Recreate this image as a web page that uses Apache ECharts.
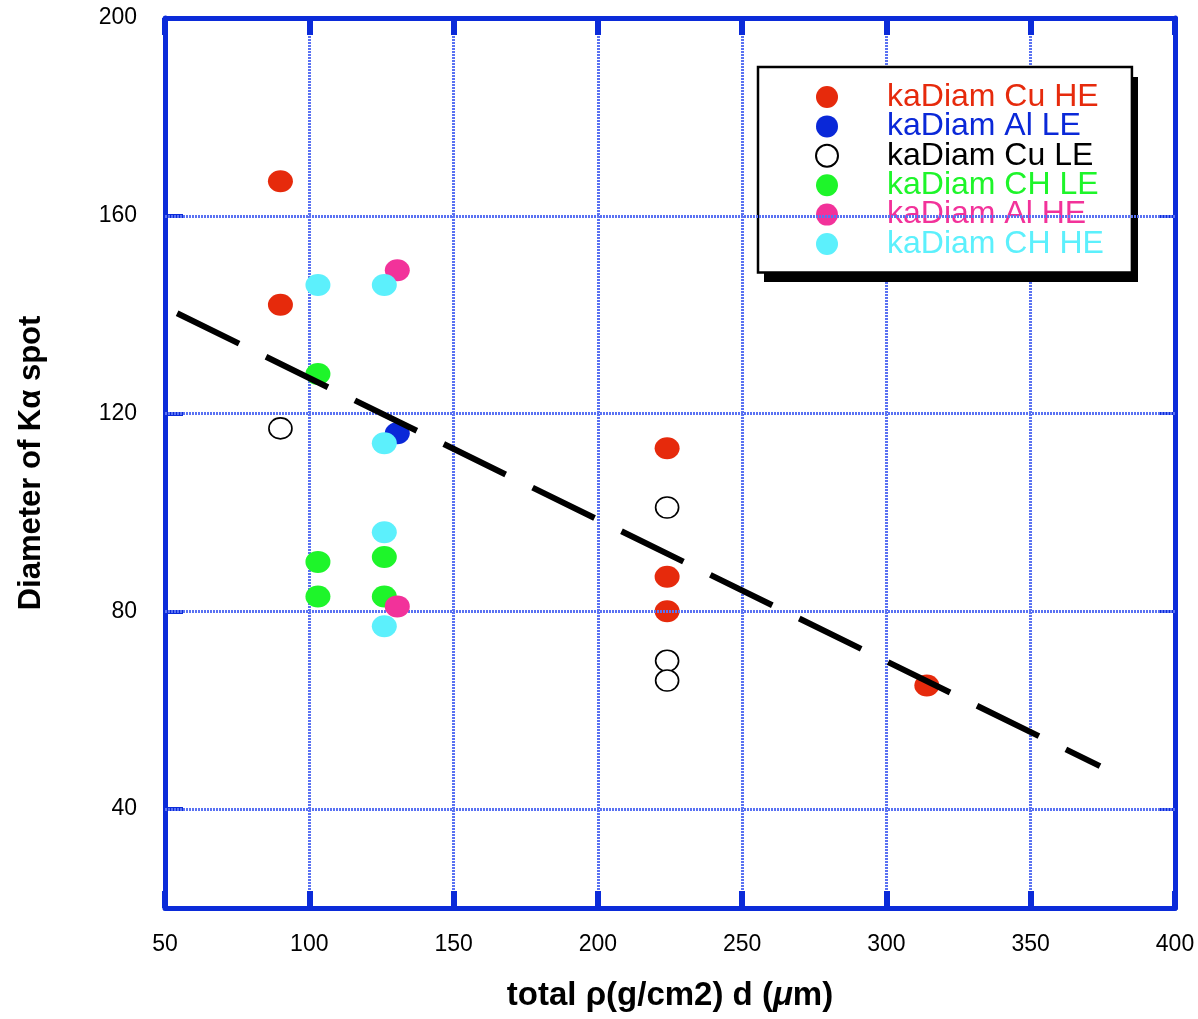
<!DOCTYPE html>
<html>
<head>
<meta charset="utf-8">
<title>Diameter of Kα spot</title>
<script src="https://cdn.jsdelivr.net/npm/echarts@6/dist/echarts.min.js"></script>
<style>
  html, body { margin: 0; padding: 0; background: #fff; }
  #chart { width: 1198px; height: 1019px; }
</style>
</head>
<body>
<div id="chart"></div>
<script>
// Measured Kα spot diameters against total areal density
const cuHE = [[90, 167], [90, 142], [224, 113], [224, 87], [224, 80], [314, 65]];
const alLE = [[130.5, 116]];
const cuLE = [[90, 117], [224, 101], [224, 70], [224, 66]];
const chLE = [[103, 128], [103, 90], [103, 83], [126, 91], [126, 83]];
const alHE = [[130.5, 149], [130.5, 81]];
const chHE = [[103, 146], [126, 146], [126, 114], [126, 96], [126, 77]];

// Linear fit drawn as a dashed trend line
const fitLine = [[54.2, 140.3], [374, 48.7]];

const seriesNames = ['kaDiam Cu HE', 'kaDiam Al LE', 'kaDiam Cu LE', 'kaDiam CH LE', 'kaDiam Al HE', 'kaDiam CH HE'];
const seriesColors = ['#e62a0c', '#0a28d8', '#000000', '#1ef52a', '#f2329a', '#5cf0fc'];

const xTicks = [50, 400, 50];          // min, max, interval
const yLabelValues = [40, 80, 120, 160, 200];
const yGridValues = [40, 80, 120, 160];

const FRAME = '#0b2bd9';
const GRID = '#5a72f2';
const FONT = '"Liberation Sans", Arial, Helvetica, sans-serif';

const chart = echarts.init(document.getElementById('chart'), null, { renderer: 'canvas' });

const scatterData = [cuHE, alLE, cuLE, chLE, alHE, chHE];
const scatterSeries = scatterData.map((d, i) => {
  const hollow = i === 2;
  return {
    name: seriesNames[i],
    type: 'scatter',
    data: d,
    symbol: 'circle',
    symbolSize: hollow ? [23, 21] : [25, 22],
    z: 3 + i,
    itemStyle: hollow
      ? { color: '#ffffff', borderColor: '#000000', borderWidth: 1.6, opacity: 1 }
      : { color: seriesColors[i], opacity: 1 },
    emphasis: { disabled: true },
    silent: true
  };
});

const legendText = { fontFamily: FONT, fontSize: 32 };

const option = {
  backgroundColor: '#ffffff',
  animation: false,
  grid: { left: 165, right: 23, top: 18, bottom: 111, containLabel: false },
  // drop shadow behind the legend box
  graphic: [{
    type: 'rect',
    z: 3,
    silent: true,
    shape: { x: 764, y: 77, width: 374, height: 205 },
    style: { fill: '#000000' }
  }],
  legend: {
    orient: 'vertical',
    left: 758,
    top: 67,
    z: 5,
    padding: [14, 28, 12.5, 57],
    backgroundColor: '#ffffff',
    borderColor: '#000000',
    borderWidth: 2.5,
    itemWidth: 110,
    itemHeight: 22,
    itemGap: -2.6,
    selectedMode: false,
    data: seriesNames.map((n, i) => ({
      name: n,
      icon: 'circle',
      textStyle: Object.assign({ color: seriesColors[i] }, legendText)
    })),
    textStyle: legendText
  },
  xAxis: [
    {
      type: 'value',
      position: 'bottom',
      min: xTicks[0], max: xTicks[1], interval: xTicks[2],
      name: '{b|total \u03c1(g/cm2) d (}{i|\u03bc}{b|m)}',
      nameLocation: 'middle',
      nameGap: 71,
      nameTextStyle: {
        rich: {
          b: { fontFamily: FONT, fontSize: 33, fontWeight: 'bold', color: '#000' },
          i: { fontFamily: FONT, fontSize: 33, fontWeight: 'bold', fontStyle: 'italic', color: '#000' }
        }
      },
      axisLine: { show: true, onZero: false, lineStyle: { color: FRAME, width: 5 } },
      axisTick: { show: true, inside: true, length: 17, lineStyle: { color: FRAME, width: 6 } },
      axisLabel: { show: true, margin: 25, fontFamily: FONT, fontSize: 23, color: '#000' },
      splitLine: { show: true, lineStyle: { color: GRID, width: 3, type: [2, 1] } }
    },
    {
      type: 'value',
      position: 'top',
      min: xTicks[0], max: xTicks[1], interval: xTicks[2],
      axisLine: { show: true, onZero: false, lineStyle: { color: FRAME, width: 5 } },
      axisTick: { show: true, inside: true, length: 17, lineStyle: { color: FRAME, width: 6 } },
      axisLabel: { show: false },
      splitLine: { show: false }
    }
  ],
  yAxis: [
    {
      type: 'value',
      position: 'left',
      min: 20, max: 200, interval: 20,
      name: 'Diameter of K\u03b1 spot',
      nameLocation: 'middle',
      nameGap: 118,
      nameRotate: 90,
      nameTextStyle: { fontFamily: FONT, fontSize: 31, fontWeight: 'bold', color: '#000' },
      axisLine: { show: true, onZero: false, lineStyle: { color: FRAME, width: 5 } },
      axisTick: { show: true, inside: true, length: 18, customValues: yLabelValues, lineStyle: { color: FRAME, width: 4 } },
      axisLabel: { show: true, margin: 28, customValues: yLabelValues, fontFamily: FONT, fontSize: 23, color: '#000' },
      splitLine: { show: false }
    },
    {
      type: 'value',
      position: 'right',
      min: 20, max: 200, interval: 20,
      axisLine: { show: true, onZero: false, lineStyle: { color: FRAME, width: 5 } },
      axisTick: { show: true, inside: true, length: 16, customValues: yLabelValues, lineStyle: { color: FRAME, width: 3 } },
      axisLabel: { show: false },
      splitLine: { show: false }
    }
  ],
  series: [
    {
      // horizontal grid lines at the labelled y values
      name: 'ygrid',
      type: 'line',
      data: [],
      silent: true,
      z: 1,
      markLine: {
        silent: true,
        symbol: ['none', 'none'],
        label: { show: false },
        lineStyle: { color: GRID, width: 3, type: [2, 1] },
        emphasis: { disabled: true },
        data: yGridValues.map(v => ({ yAxis: v }))
      }
    },
    ...scatterSeries,
    {
      name: 'fit',
      type: 'line',
      data: fitLine,
      symbol: 'none',
      z: 20,
      silent: true,
      lineStyle: { color: '#000000', width: 6, type: [69, 30], cap: 'butt' }
    }
  ]
};

chart.setOption(option);
</script>
</body>
</html>
